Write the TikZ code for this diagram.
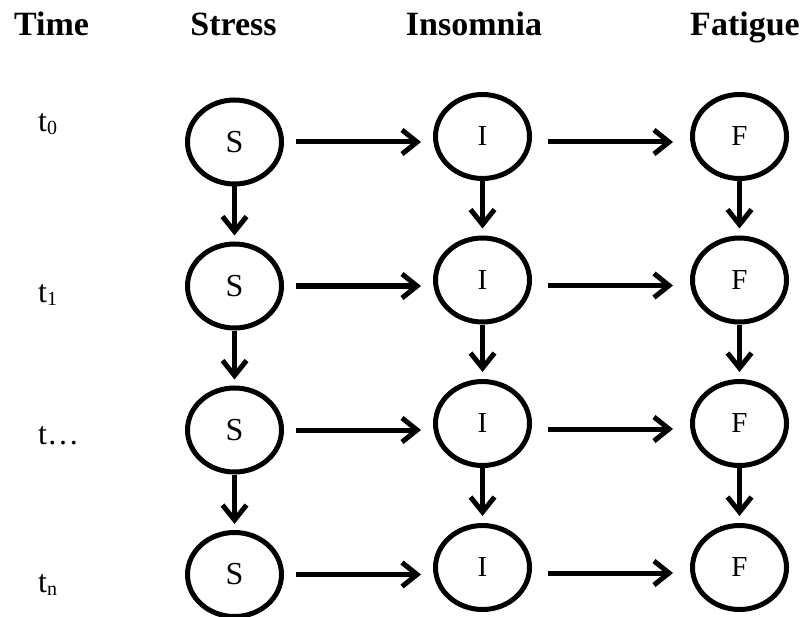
\documentclass[tikz,border=0pt]{standalone}
\usepackage{fontspec}
\setmainfont{Liberation Serif}
\usetikzlibrary{shapes.geometric,arrows.meta}
\newcommand{\tsub}[1]{t\raisebox{-3pt}{\fontsize{20}{20}\selectfont #1}}
\begin{document}
\begin{tikzpicture}[x=1pt,y=1pt,
  state/.style={draw,ellipse,line width=5pt,minimum width=94pt,minimum height=84pt,
    inner sep=0pt,font=\fontsize{29}{29}\selectfont},
  head/.style={anchor=base,font=\bfseries\fontsize{34}{34}\selectfont},
  tlabel/.style={anchor=base west,inner sep=0pt,font=\fontsize{32}{32}\selectfont},
  arr/.style={line width=5pt,-{Straight Barb[length=15pt,width=24pt,line width=5pt]}}]
\useasboundingbox (0,0) rectangle (802,-617);

% column headings
\node[head] (hT) at (51.5,-36) {Time};
\node[head] (hS) at (233.5,-36) {Stress};
\node[head] (hI) at (474,-36) {Insomnia};
\node[head] (hF) at (745,-36) {Fatigue};

% time labels
\node[tlabel] (l0) at (38,-132) {\tsub{0}};
\node[tlabel] (l1) at (38,-302) {\tsub{1}};
\node[tlabel] (l2) at (38,-444) {t…};
\node[tlabel] (l3) at (38,-592) {\tsub{n}};

% states, one row per time point
\foreach \r/\ys/\yi in {0/142/136.5, 1/286/280, 2/430/423.5, 3/574.5/567.5}{
  \node[state] (s\r) at (234.5,-\ys) {\fontsize{32}{32}\selectfont S};
  \node[state] (i\r) at (482.5,-\yi) {I};
  \node[state] (f\r) at (739.5,-\yi) {F};
}

% cross-sectional paths within each time point
\foreach \r in {0,1,2,3}{
  \draw[arr] ([xshift=12pt]s\r.east) -- ([xshift=-12pt]s\r.east -| i\r.west);
  \draw[arr] ([shift={(16pt,-5.5pt)}]i\r.east) -- ([shift={(-17pt,-5.5pt)}]f\r.west);
}

% autoregressive paths between consecutive time points
\foreach \a/\b in {0/1,1/2,2/3}{
  \draw[arr] (s\a.south) -- ([yshift=6pt]s\b.north);
  \draw[arr] (i\a.south) -- ([yshift=7pt]i\b.north);
  \draw[arr] (f\a.south) -- ([yshift=7pt]f\b.north);
}
\end{tikzpicture}
\end{document}
